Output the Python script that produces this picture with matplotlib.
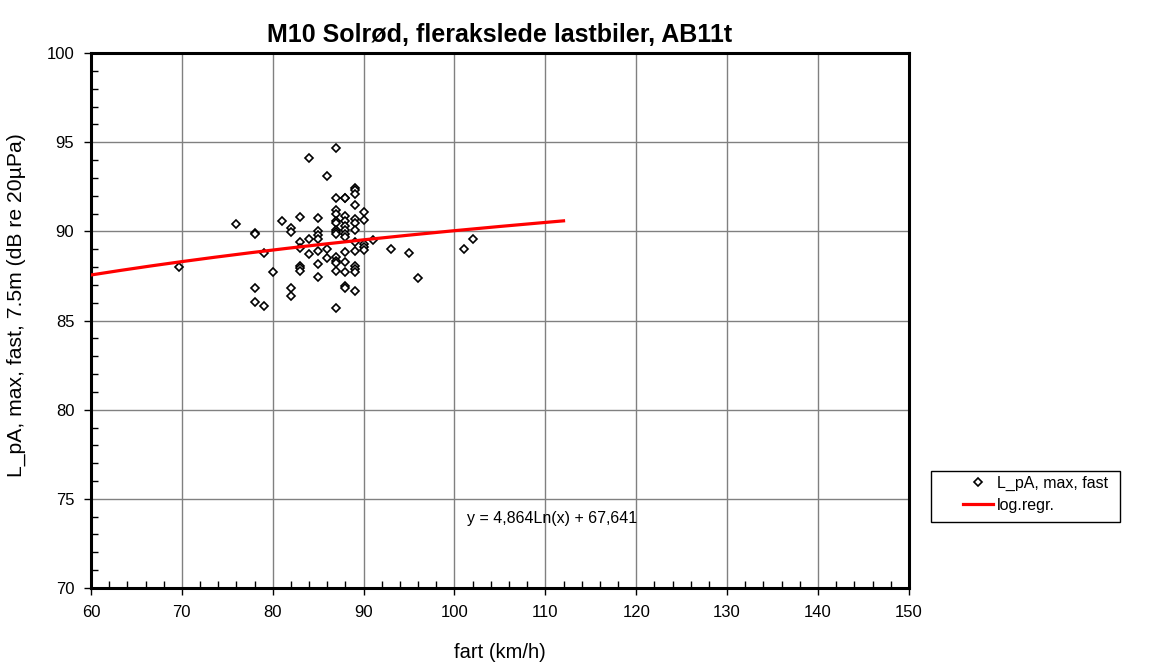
import numpy as np
import matplotlib.pyplot as plt
from matplotlib.ticker import MultipleLocator
from matplotlib.patches import Rectangle

plt.rcParams['font.family'] = ['Liberation Sans', 'DejaVu Sans']

# measured passages: speed (km/h) and max level (dB)
fart = [69.7, 76, 78, 78, 78, 78, 79, 79, 80,
        81, 82, 82, 82, 82,
        83, 83, 83, 83, 83, 83,
        84, 84, 84,
        85, 85, 85, 85, 85, 85, 85,
        86, 86, 86,
        87, 87, 87, 87, 87, 87, 87, 87, 87, 87, 87, 87, 87, 87,
        88, 88, 88, 88, 88, 88, 88, 88, 88, 88, 88, 88, 88,
        89, 89, 89, 89, 89, 89, 89, 89, 89, 89, 89, 89, 89,
        90, 90, 90, 90, 90,
        91, 93, 95, 96, 101, 102]
lpa = [88.0, 90.4, 89.9, 89.85, 86.85, 86.05, 88.8, 85.8, 87.75,
       90.6, 90.2, 89.95, 86.85, 86.4,
       90.8, 89.4, 89.05, 88.05, 87.95, 87.8,
       94.1, 89.6, 88.75,
       90.75, 90.05, 89.8, 89.6, 88.9, 88.15, 87.45,
       93.1, 89.0, 88.5,
       94.7, 91.9, 91.2, 90.95, 90.6, 90.45, 90.1, 89.95, 89.85, 88.55, 88.35, 88.2, 87.8, 85.7,
       91.9, 91.85, 90.85, 90.6, 90.3, 90.1, 89.85, 89.7, 88.85, 88.3, 87.75, 86.95, 86.8,
       92.45, 92.35, 92.1, 91.5, 90.7, 90.45, 90.1, 89.4, 88.9, 88.05, 87.9, 87.7, 86.65,
       91.1, 90.65, 89.3, 89.1, 88.95,
       89.5, 89.0, 88.8, 87.4, 89.0, 89.6]

# logarithmic regression y = a*ln(x) + b
a, b = 4.864, 67.641
x_fit = np.linspace(60, 112, 200)
y_fit = a * np.log(x_fit) + b

fig = plt.figure(figsize=(11.49, 6.64), dpi=100)
ax = fig.add_axes([0.0792, 0.1145, 0.7118, 0.8055])

ax.plot(fart, lpa, linestyle='none', marker='D', markersize=4.5,
        markerfacecolor='white', markeredgecolor='black', markeredgewidth=1.2,
        label='L_pA, max, fast', zorder=3)
ax.plot(x_fit, y_fit, color='#ff0000', linewidth=2.3, label='log.regr.', zorder=4)

ax.set_xlim(60, 150)
ax.set_ylim(70, 100)
ax.xaxis.set_major_locator(MultipleLocator(10))
ax.xaxis.set_minor_locator(MultipleLocator(2))
ax.yaxis.set_major_locator(MultipleLocator(5))
ax.yaxis.set_minor_locator(MultipleLocator(1))
ax.grid(True, which='major', color='#808080', linewidth=1.0)
ax.set_axisbelow(True)

ax.tick_params(which='major', direction='out', length=5, width=1, labelsize=12,
               color='black', pad=7)
ax.tick_params(which='minor', direction='in', length=5, width=1, color='black')
for s in ax.spines.values():
    s.set_linewidth(2.2)
    s.set_color('black')

ax.set_xlabel('fart (km/h)', fontsize=14.5, labelpad=17)
ax.set_ylabel('L_pA, max, fast, 7.5m (dB re 20µPa)', fontsize=15.2, labelpad=15)
ax.yaxis.label.set_y(0.529)
ax.set_title('M10 Solrød, flerakslede lastbiler, AB11t', fontsize=18,
             fontweight='bold', pad=8)

ax.text(110.7, 73.9, 'y = 4,864Ln(x) + 67,641', fontsize=11.5, ha='center', va='center')

# legend outside the plot area, with its own box
fig.add_artist(Rectangle((0.8103, 0.2139), 0.1645, 0.0768, transform=fig.transFigure,
                         facecolor='white', edgecolor='black', linewidth=1.0))
fig.legend(loc='upper left', bbox_to_anchor=(0.838, 1 - 476 / 664), fontsize=11.5,
           frameon=False, borderaxespad=0, borderpad=0, handlelength=1.9,
           handletextpad=0.25, labelspacing=0.4)

fig.savefig('out.png', dpi=100)
